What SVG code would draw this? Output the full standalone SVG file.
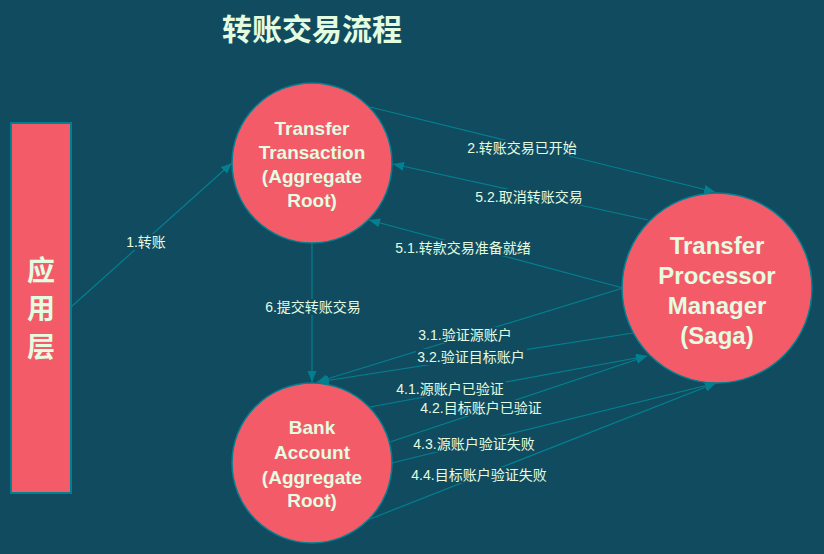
<svg xmlns="http://www.w3.org/2000/svg" width="824" height="554" viewBox="0 0 824 554">
<defs>
<marker id="arr" markerUnits="userSpaceOnUse" markerWidth="12" markerHeight="10" refX="11" refY="4.5" orient="auto">
<path d="M0,0 L11,4.5 L0,9 z" fill="#028090"/>
</marker>
<style>
.bg{fill:#114b5f}
.node{fill:#f45b69;stroke:#028090;stroke-width:1.5}
.nt{font-family:"Liberation Sans","Noto Sans CJK SC",sans-serif;font-weight:bold;fill:#e4fde1;text-anchor:middle}
.edge{stroke:#028090;stroke-width:1.2;fill:none;marker-end:url(#arr)}
.lb{fill:#114b5f}
.lt{font-family:"Liberation Sans","Noto Sans CJK SC",sans-serif;font-size:14px;fill:#e4fde1;text-anchor:middle;dominant-baseline:central}
</style>
</defs>
<rect class="bg" x="0" y="0" width="824" height="554"/>
<text class="nt" x="312" y="40" font-size="30">转账交易流程</text>

<g id="connectors">
<line class="edge" x1="71" y1="307" x2="232" y2="163"/>
<line class="edge" x1="370" y1="107" x2="715" y2="192"/>
<line class="edge" x1="648" y1="220" x2="393" y2="164"/>
<line class="edge" x1="623" y1="288" x2="369" y2="220"/>
<line class="edge" x1="312" y1="243" x2="312" y2="382"/>
<line class="edge" x1="623" y1="288" x2="317" y2="382"/>
<line class="edge" x1="633" y1="333" x2="318" y2="382"/>
<line class="edge" x1="370" y1="407" x2="647" y2="356"/>
<line class="edge" x1="390" y1="442" x2="647" y2="356"/>
<line class="edge" x1="392" y1="463" x2="716" y2="383"/>
<line class="edge" x1="370" y1="519" x2="716" y2="383"/>

<rect class="lb" x="125" y="234" width="43" height="16"/>
<text class="lt" x="146" y="242">1.转账</text>
<rect class="lb" x="466" y="140" width="112" height="16"/>
<text class="lt" x="522" y="148">2.转账交易已开始</text>
<rect class="lb" x="474" y="189" width="110" height="16"/>
<text class="lt" x="529" y="197">5.2.取消转账交易</text>
<rect class="lb" x="394" y="240" width="139" height="16"/>
<text class="lt" x="463" y="248">5.1.转款交易准备就绪</text>
<rect class="lb" x="264" y="299" width="98" height="16"/>
<text class="lt" x="313" y="307">6.提交转账交易</text>
<rect class="lb" x="416" y="327" width="97" height="16"/>
<text class="lt" x="465" y="335">3.1.验证源账户</text>
<rect class="lb" x="416" y="349" width="111" height="16"/>
<text class="lt" x="471" y="357">3.2.验证目标账户</text>
<rect class="lb" x="395" y="381" width="111" height="16"/>
<text class="lt" x="450" y="389">4.1.源账户已验证</text>
<rect class="lb" x="419" y="400" width="125" height="16"/>
<text class="lt" x="481" y="408">4.2.目标账户已验证</text>
<rect class="lb" x="411" y="436" width="125" height="16"/>
<text class="lt" x="474" y="444">4.3.源账户验证失败</text>
<rect class="lb" x="410" y="467" width="139" height="16"/>
<text class="lt" x="479" y="475">4.4.目标账户验证失败</text>
</g>

<g id="app-layer">
<rect x="11" y="123" width="60" height="370" fill="#f45b69" stroke="#028090" stroke-width="2"/>
<text class="nt" font-size="28"><tspan x="41" y="281">应</tspan><tspan x="41" y="319">用</tspan><tspan x="41" y="357">层</tspan></text>
</g>

<g id="transfer-transaction">
<circle class="node" cx="312" cy="163" r="80"/>
<text class="nt" font-size="19"><tspan x="312" y="135">Transfer</tspan><tspan x="312" y="159">Transaction</tspan><tspan x="312" y="183">(Aggregate</tspan><tspan x="312" y="207">Root)</tspan></text>
</g>

<g id="bank-account">
<circle class="node" cx="312" cy="463" r="80"/>
<text class="nt" font-size="19"><tspan x="312" y="434">Bank</tspan><tspan x="312" y="459">Account</tspan><tspan x="312" y="484">(Aggregate</tspan><tspan x="312" y="507">Root)</tspan></text>
</g>

<g id="transfer-processor-manager">
<circle class="node" cx="717" cy="288" r="95"/>
<text class="nt" font-size="24"><tspan x="717" y="254">Transfer</tspan><tspan x="717" y="284">Processor</tspan><tspan x="717" y="314">Manager</tspan><tspan x="717" y="344">(Saga)</tspan></text>
</g>
</svg>
